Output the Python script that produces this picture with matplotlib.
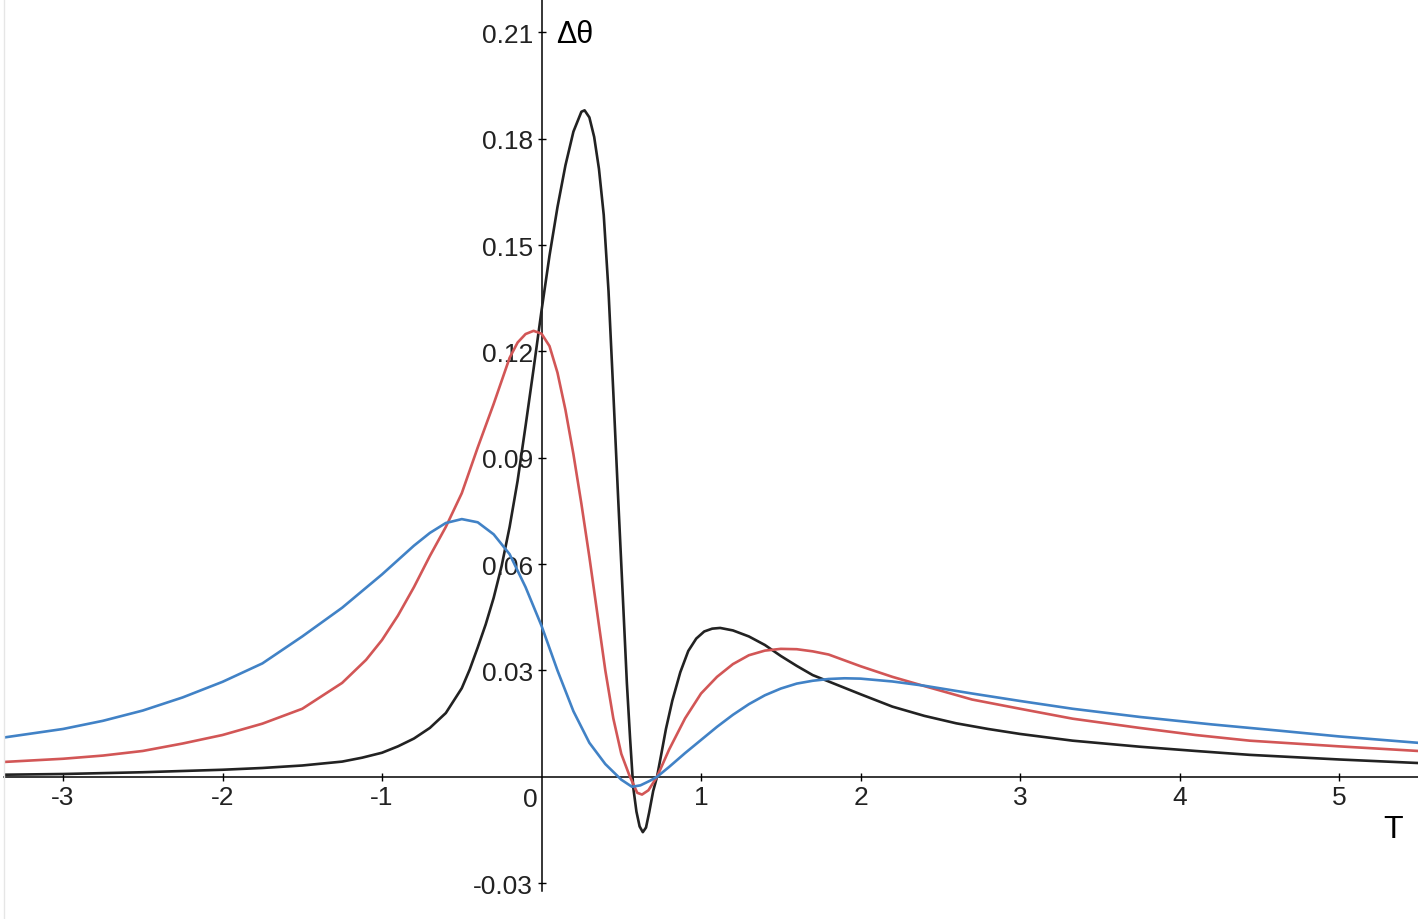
import matplotlib.pyplot as plt
from matplotlib.lines import Line2D

plt.rcParams['font.family'] = ['Liberation Sans', 'DejaVu Sans']
plt.rcParams['axes.unicode_minus'] = False

# values (T, delta theta)
t_blue = [-3.37, -3.0, -2.75, -2.5, -2.25, -2.0, -1.75, -1.5, -1.25, -1.0,
          -0.8, -0.7, -0.6, -0.5, -0.4, -0.3, -0.2, -0.1, 0.0, 0.1,
          0.2, 0.3, 0.4, 0.5, 0.567, 0.62, 0.68, 0.724, 0.8, 0.9,
          1.0, 1.1, 1.2, 1.3, 1.4, 1.5, 1.6, 1.7, 1.8, 1.9,
          2.0, 2.2, 2.4, 2.7, 3.0, 3.33, 3.75, 4.2, 4.63, 5.0, 5.495]
d_blue = [0.0111, 0.0135, 0.0158, 0.0187, 0.0224, 0.0268, 0.0320, 0.0396, 0.0477, 0.0571,
          0.0652, 0.0688, 0.0716, 0.0727, 0.0718, 0.0684, 0.0628, 0.0535, 0.0426, 0.0300,
          0.0185, 0.0096, 0.0036, -0.0008, -0.0028, -0.0024, -0.0011, 0.0, 0.0028, 0.0067,
          0.0104, 0.0141, 0.0175, 0.0205, 0.0230, 0.0249, 0.0263, 0.0271, 0.0276, 0.0278,
          0.0277, 0.0269, 0.0257, 0.0235, 0.0214, 0.0192, 0.0169, 0.0148, 0.0130, 0.0114, 0.0096]

t_red = [-3.37, -3.0, -2.75, -2.5, -2.25, -2.0, -1.75, -1.5, -1.25, -1.1,
         -1.0, -0.9, -0.8, -0.7, -0.6, -0.5, -0.4, -0.3, -0.2, -0.15,
         -0.1, -0.05, 0.0, 0.05, 0.1, 0.15, 0.2, 0.25, 0.3, 0.35,
         0.4, 0.45, 0.5, 0.55, 0.6, 0.63, 0.67, 0.724, 0.8, 0.9,
         1.0, 1.1, 1.2, 1.3, 1.4, 1.5, 1.6, 1.7, 1.8, 2.0,
         2.2, 2.4, 2.7, 3.0, 3.33, 3.75, 4.1, 4.44, 5.0, 5.495]
d_red = [0.0042, 0.0051, 0.0060, 0.0073, 0.0094, 0.0118, 0.0150, 0.0192, 0.0265, 0.0330,
         0.0386, 0.0455, 0.0535, 0.0623, 0.0705, 0.0800, 0.0929, 0.1052, 0.1182, 0.1225,
         0.1249, 0.1258, 0.1250, 0.1215, 0.1140, 0.1035, 0.0910, 0.0770, 0.0620, 0.0460,
         0.0300, 0.0165, 0.0065, 0.0005, -0.0045, -0.0050, -0.0038, 0.0, 0.0077, 0.0165,
         0.0235, 0.0282, 0.0318, 0.0343, 0.0356, 0.0361, 0.0360, 0.0354, 0.0345, 0.0312,
         0.0282, 0.0256, 0.0218, 0.0192, 0.0164, 0.0138, 0.0118, 0.0102, 0.0086, 0.0073]

t_black = [-3.37, -3.0, -2.5, -2.0, -1.75, -1.5, -1.25, -1.125, -1.0, -0.9, -0.8,
           -0.7, -0.6, -0.5, -0.45, -0.4, -0.35, -0.3, -0.25, -0.2, -0.15,
           -0.1, -0.05, 0.0, 0.05, 0.1, 0.15, 0.2, 0.25, 0.27, 0.3,
           0.33, 0.36, 0.39, 0.42, 0.45, 0.48, 0.51, 0.535, 0.555, 0.575,
           0.595, 0.615, 0.635, 0.655, 0.675, 0.7, 0.724, 0.75, 0.78, 0.82,
           0.87, 0.92, 0.97, 1.02, 1.07, 1.12, 1.2, 1.3, 1.4, 1.5,
           1.6, 1.7, 1.8, 1.9, 2.0, 2.2, 2.4, 2.6, 2.8, 3.0, 3.33,
           3.75, 4.1, 4.44, 5.0, 5.495]
d_black = [0.0006, 0.0008, 0.0013, 0.0020, 0.0025, 0.0032, 0.0043, 0.0054, 0.0068, 0.0086, 0.0108,
           0.0138, 0.0180, 0.0250, 0.0303, 0.0365, 0.0430, 0.0505, 0.0595, 0.0705, 0.0835,
           0.0990, 0.1150, 0.1315, 0.1470, 0.1607, 0.1725, 0.1820, 0.1876, 0.1880, 0.1860,
           0.1805, 0.1715, 0.1585, 0.1370, 0.1085, 0.0790, 0.0505, 0.0265, 0.0110, -0.0030,
           -0.0098, -0.0140, -0.0156, -0.0143, -0.0100, -0.0040, 0.0, 0.0062, 0.0135, 0.0215,
           0.0295, 0.0355, 0.0390, 0.0410, 0.0418, 0.0420, 0.0413, 0.0396, 0.0372, 0.0341,
           0.0313, 0.0287, 0.0269, 0.0251, 0.0233, 0.0198, 0.0172, 0.0151, 0.0135, 0.0121, 0.0102,
           0.0085, 0.0073, 0.0062, 0.0049, 0.0039]

x_ticks = [-3, -2, -1, 1, 2, 3, 4, 5]
y_ticks = [-0.03, 0.03, 0.06, 0.09, 0.12, 0.15, 0.18, 0.21]

fig = plt.figure(figsize=(14.18, 9.2), dpi=100)
ax = fig.add_axes([4 / 1418, 28 / 920, 1414 / 1418, 892 / 920])

ax.plot(t_black, d_black, color='#222222', lw=1.9, zorder=3)
ax.plot(t_red, d_red, color='#d25656', lw=1.9, zorder=3)
ax.plot(t_blue, d_blue, color='#4182c6', lw=1.9, zorder=3)

ax.set_xlim(-3.37, 5.495)
ax.set_ylim(-0.0322, 0.2194)

for s in ['top', 'right']:
    ax.spines[s].set_visible(False)
ax.spines['left'].set_position(('data', 0))
ax.spines['bottom'].set_position(('data', 0))
ax.spines['left'].set_linewidth(1.1)
ax.spines['bottom'].set_linewidth(1.1)

ax.set_xticks(x_ticks)
ax.set_yticks(y_ticks)
ax.yaxis.set_major_formatter(lambda v, p: f'{v:.2f}')
ax.tick_params(direction='inout', length=6, width=1, labelsize=19, pad=3,
               labelcolor='#222222')

ax.annotate('0', xy=(0, 0), xytext=(-8.3, -7), textcoords='offset points',
            ha='center', va='top', fontsize=19, color='#222222')
ax.text(0.091, 0.2095, 'Δθ', fontsize=22, ha='left', va='center')
ax.text(5.339, -0.0147, 'T', fontsize=23, ha='center', va='center')

fig.add_artist(Line2D([3.5 / 1418] * 2, [0, 1], color='#e6e6e6', lw=1))

fig.savefig('out.png', dpi=100)
